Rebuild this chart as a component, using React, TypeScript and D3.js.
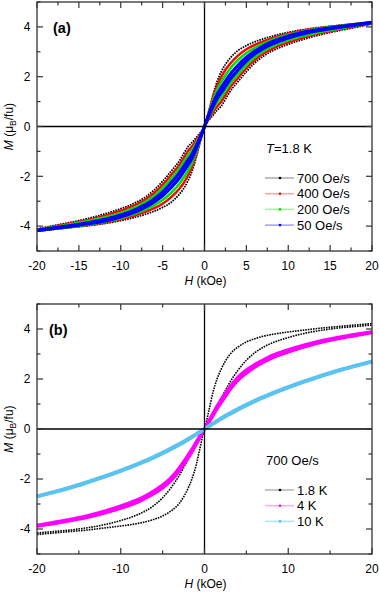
import React from "react";
import * as d3 from "d3";

// field grid (kOe), positive quadrant; loops are point-symmetric through the origin
const fieldKOe = [0, 0.5, 1, 1.5, 2, 2.5, 3, 4, 5, 6, 7, 8, 10, 12, 14, 16, 18, 20];

// panel (a): T = 1.8 K, different sweep rates (M in muB/fu)
const rate700Upper = [0, 0.6, 1.25, 1.8, 2.2, 2.5, 2.72, 3.05, 3.25, 3.4, 3.52, 3.62, 3.78, 3.9, 3.99, 4.06, 4.13, 4.2];
const rate700Lower = [0, 0.25, 0.45, 0.65, 0.82, 1.1, 1.38, 1.8, 2.2, 2.55, 2.82, 3.02, 3.3, 3.52, 3.7, 3.85, 3.98, 4.12];
const rate400Upper = [0, 0.56, 1.14, 1.63, 1.99, 2.28, 2.5, 2.85, 3.1, 3.28, 3.42, 3.54, 3.73, 3.87, 3.96, 4.04, 4.12, 4.19];
const rate400Lower = [0, 0.31, 0.56, 0.8, 1.0, 1.27, 1.54, 1.95, 2.34, 2.67, 2.92, 3.11, 3.38, 3.59, 3.76, 3.89, 4.01, 4.14];
const rate200Upper = [0, 0.52, 1.03, 1.47, 1.79, 2.06, 2.3, 2.67, 2.95, 3.16, 3.33, 3.47, 3.68, 3.83, 3.94, 4.03, 4.1, 4.19];
const rate200Lower = [0, 0.36, 0.67, 0.95, 1.17, 1.43, 1.69, 2.1, 2.47, 2.78, 3.02, 3.2, 3.47, 3.66, 3.81, 3.93, 4.04, 4.15];
const rate50Upper = [0, 0.47, 0.91, 1.29, 1.56, 1.82, 2.07, 2.46, 2.78, 3.03, 3.23, 3.39, 3.63, 3.8, 3.91, 4.01, 4.09, 4.18];
const rate50Lower = [0, 0.42, 0.79, 1.12, 1.36, 1.61, 1.86, 2.27, 2.63, 2.91, 3.13, 3.3, 3.56, 3.74, 3.87, 3.98, 4.07, 4.17];

// panel (b): 700 Oe/s, different temperatures
const temp18Upper = [0, 0.7, 1.45, 2.0, 2.4, 2.72, 2.97, 3.28, 3.48, 3.61, 3.71, 3.78, 3.88, 3.96, 4.04, 4.1, 4.16, 4.22];
const temp18Lower = [0, 0.3, 0.6, 0.9, 1.22, 1.55, 1.85, 2.35, 2.75, 3.05, 3.27, 3.43, 3.66, 3.83, 3.95, 4.04, 4.1, 4.16];
const temp4Upper = [0, 0.3, 0.6, 0.9, 1.17, 1.42, 1.66, 2.06, 2.35, 2.57, 2.75, 2.92, 3.16, 3.36, 3.53, 3.66, 3.78, 3.88];
const temp4Lower = [0, 0.26, 0.54, 0.82, 1.07, 1.32, 1.56, 1.96, 2.25, 2.48, 2.67, 2.84, 3.09, 3.3, 3.48, 3.62, 3.74, 3.86];
const temp10Upper = [0, 0.11, 0.22, 0.33, 0.43, 0.53, 0.62, 0.8, 0.97, 1.13, 1.28, 1.42, 1.68, 1.92, 2.14, 2.35, 2.53, 2.7];
const temp10Lower = [0, 0.1, 0.21, 0.31, 0.41, 0.51, 0.6, 0.78, 0.95, 1.11, 1.26, 1.4, 1.66, 1.9, 2.12, 2.33, 2.52, 2.69];

const ratesA = ["700 Oe/s", "400 Oe/s", "200 Oe/s", "50 Oe/s"];
const tempsB = ["1.8 K", "4 K", "10 K"];
const xTicksA = [-20, -15, -10, -5, 0, 5, 10, 15, 20];
const xTicksB = [-20, -10, 0, 10, 20];
const yTicks = [-4, -2, 0, 2, 4];

const FONT = "'Liberation Sans', Arial, Helvetica, sans-serif";

type Style = { color: string; faint: string; width: number; dash?: string };

const seriesA = [
  { label: ratesA[0], upper: rate700Upper, lower: rate700Lower },
  { label: ratesA[1], upper: rate400Upper, lower: rate400Lower },
  { label: ratesA[2], upper: rate200Upper, lower: rate200Lower },
  { label: ratesA[3], upper: rate50Upper, lower: rate50Lower },
];
const stylesA: Style[] = [
  { color: "#000", faint: "#b0b0b0", width: 1.8, dash: "1.6 1" },
  { color: "#ff0000", faint: "#f7a8a8", width: 2.4 },
  { color: "#00e000", faint: "#a8f0a8", width: 2.6 },
  { color: "#0000ff", faint: "#a8a8f0", width: 3.2 },
];

const seriesB = [
  { label: tempsB[0], upper: temp18Upper, lower: temp18Lower },
  { label: tempsB[1], upper: temp4Upper, lower: temp4Lower },
  { label: tempsB[2], upper: temp10Upper, lower: temp10Lower },
];
const stylesB: Style[] = [
  { color: "#000", faint: "#b8b8b8", width: 1.6, dash: "1.6 1" },
  { color: "#ff00ff", faint: "#ffb0ff", width: 3.6 },
  { color: "#5bc3f0", faint: "#b0e4fa", width: 3.8 },
];

type Series = { label: string; upper: number[]; lower: number[] };

function loopBranches(s: Series): [number, number][][] {
  const n = fieldKOe.length;
  const negDesc: [number, number][] = [];
  const negAsc: [number, number][] = [];
  for (let i = n - 1; i > 0; i--) {
    negDesc.push([-fieldKOe[i], -s.lower[i]]);
    negAsc.push([-fieldKOe[i], -s.upper[i]]);
  }
  const posDesc = fieldKOe.map((h, i) => [h, s.upper[i]] as [number, number]);
  const posAsc = fieldKOe.map((h, i) => [h, s.lower[i]] as [number, number]);
  return [negDesc.concat(posDesc), negAsc.concat(posAsc)];
}

type PanelProps = {
  top: number;
  bottom: number;
  tag: string;
  xTicks: number[];
  xMinor: number;
  series: Series[];
  styles: Style[];
  legendTitle: React.ReactNode;
  legendTop: number;
};

function Panel(p: PanelProps) {
  const left = 37;
  const right = 372;
  const x = d3.scaleLinear().domain([-20, 20]).range([left, right]);
  const y = d3.scaleLinear().domain([-5, 5]).range([p.bottom, p.top]);
  const line = d3
    .line<[number, number]>()
    .x((d) => x(d[0]))
    .y((d) => y(d[1]))
    .curve(d3.curveMonotoneX);

  const xMinorTicks = d3.range(-20, 20.001, p.xMinor);
  const yAll = d3.range(-5, 5.001, 1);
  const axisColor = "#333";
  const midY = (p.top + p.bottom) / 2;

  return (
    <g>
      {/* curves */}
      <g clipPath={undefined}>
        {p.series.map((s, i) =>
          loopBranches(s).map((b, j) => (
            <path
              key={s.label + j}
              d={line(b) || ""}
              fill="none"
              stroke={p.styles[i].color}
              strokeWidth={p.styles[i].width}
              strokeDasharray={p.styles[i].dash}
            />
          ))
        )}
      </g>

      {/* zero lines */}
      <line x1={left} x2={right} y1={y(0)} y2={y(0)} stroke="#000" strokeWidth={1.3} />
      <line x1={x(0)} x2={x(0)} y1={p.top} y2={p.bottom} stroke="#000" strokeWidth={1.3} />

      {/* frame */}
      <rect x={left} y={p.top} width={right - left} height={p.bottom - p.top} fill="none" stroke={axisColor} strokeWidth={1.3} />

      {/* x ticks */}
      {xMinorTicks.map((v) => {
        const major = p.xTicks.includes(v);
        const len = major ? 6 : 3.5;
        return (
          <g key={"xt" + v}>
            <line x1={x(v)} x2={x(v)} y1={p.bottom} y2={p.bottom - len} stroke={axisColor} strokeWidth={1.2} />
            <line x1={x(v)} x2={x(v)} y1={p.top} y2={p.top + len} stroke={axisColor} strokeWidth={1.2} />
          </g>
        );
      })}
      {/* y ticks */}
      {yAll.map((v) => {
        const major = yTicks.includes(v);
        const len = major ? 6 : 3.5;
        return (
          <g key={"yt" + v}>
            <line x1={left} x2={left + len} y1={y(v)} y2={y(v)} stroke={axisColor} strokeWidth={1.2} />
            <line x1={right} x2={right - len} y1={y(v)} y2={y(v)} stroke={axisColor} strokeWidth={1.2} />
          </g>
        );
      })}

      {/* tick labels */}
      {p.xTicks.map((v) => (
        <text key={"xl" + v} x={x(v)} y={p.bottom + 18.5} textAnchor="middle" fontSize={12} fontFamily={FONT}>
          {v}
        </text>
      ))}
      {yTicks.map((v) => (
        <text key={"yl" + v} x={30.5} y={y(v) + 4.3} textAnchor="end" fontSize={12} fontFamily={FONT}>
          {v}
        </text>
      ))}

      {/* axis titles */}
      <text x={x(0) + 1} y={p.bottom + 34} textAnchor="middle" fontSize={12} fontFamily={FONT}>
        <tspan fontStyle="italic">H</tspan> (kOe)
      </text>
      <text transform={`translate(13,${midY}) rotate(-90)`} textAnchor="middle" fontSize={12} fontFamily={FONT}>
        <tspan fontStyle="italic">M</tspan> (μ
        <tspan dy={3} fontSize={8.5}>B</tspan>
        <tspan dy={-3}>/fu)</tspan>
      </text>

      {/* panel tag */}
      <text x={p.tag === "(a)" ? 53 : 49} y={p.top + 31} fontSize={14.5} fontWeight="bold" fontFamily={FONT}>
        {p.tag}
      </text>

      {/* legend */}
      <text x={266} y={p.legendTop} fontSize={13} fontFamily={FONT}>
        {p.legendTitle}
      </text>
      {p.series.map((s, i) => {
        const ly = p.legendTop + 25 + i * 15.7;
        return (
          <g key={"lg" + s.label}>
            <line x1={265} x2={294} y1={ly} y2={ly} stroke={p.styles[i].faint} strokeWidth={1.6} />
            <circle cx={280} cy={ly} r={1.3} fill={p.styles[i].color} />
            <text x={297} y={ly + 4.5} fontSize={13} fontFamily={FONT}>
              {s.label}
            </text>
          </g>
        );
      })}
    </g>
  );
}

export default function App() {
  return (
    <svg
      width={380}
      height={593}
      style={{ position: "absolute", left: 0, top: 0, background: "#fff" }}
    >
      <Panel
        top={2}
        bottom={251}
        tag="(a)"
        xTicks={xTicksA}
        xMinor={2.5}
        series={seriesA}
        styles={stylesA}
        legendTitle={
          <>
            <tspan fontStyle="italic">T</tspan>=1.8 K
          </>
        }
        legendTop={153}
      />
      <Panel
        top={304}
        bottom={554}
        tag="(b)"
        xTicks={xTicksB}
        xMinor={5}
        series={seriesB}
        styles={stylesB}
        legendTitle="700 Oe/s"
        legendTop={465}
      />
    </svg>
  );
}
